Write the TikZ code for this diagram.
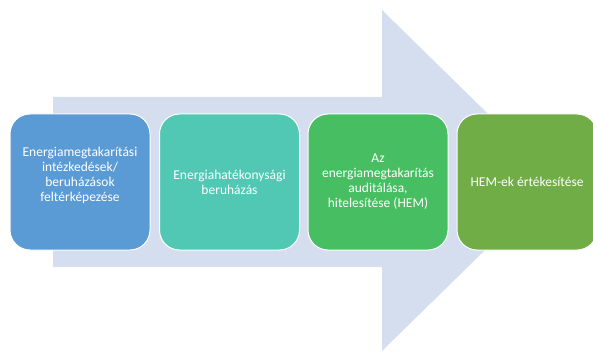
\documentclass[tikz,border=0pt]{standalone}
\usepackage{fontspec}
\setmainfont{Carlito}
\definecolor{arrowfill}{HTML}{D5DEEE}
\definecolor{cblue}{HTML}{5B9BD5}
\definecolor{cteal}{HTML}{50C8B4}
\definecolor{cgreen}{HTML}{48BE63}
\definecolor{colive}{HTML}{70AD47}
\begin{document}
\begin{tikzpicture}[x=1pt,y=1pt,
  box/.style={rounded corners=20pt, draw=white, line width=1pt,
    minimum width=140pt, minimum height=136pt, text=white, align=center,
    font=\fontsize{13.5}{15}\selectfont, inner sep=0pt}]
\useasboundingbox (0,0) rectangle (593,351);
\fill[arrowfill] (53,254) -- (382,254) -- (382,341) -- (556,170.5) -- (382,0) -- (382,84) -- (53,84) -- cycle;
\node[box, fill=cblue] (b1) at (80,169) {Energiamegtakarítási\\intézkedések/\\beruházások\\feltérképezése\\\mbox{}};
\node[box, fill=cteal] (b2) at (229.5,169) {Energiahatékonysági\\beruházás};
\node[box, fill=cgreen] (b3) at (378,169) {Az\\energiamegtakarítás\\auditálása,\\hitelesítése (HEM)};
\node[box, fill=colive] (b4) at (527,169) {HEM-ek értékesítése};
\end{tikzpicture}
\end{document}
